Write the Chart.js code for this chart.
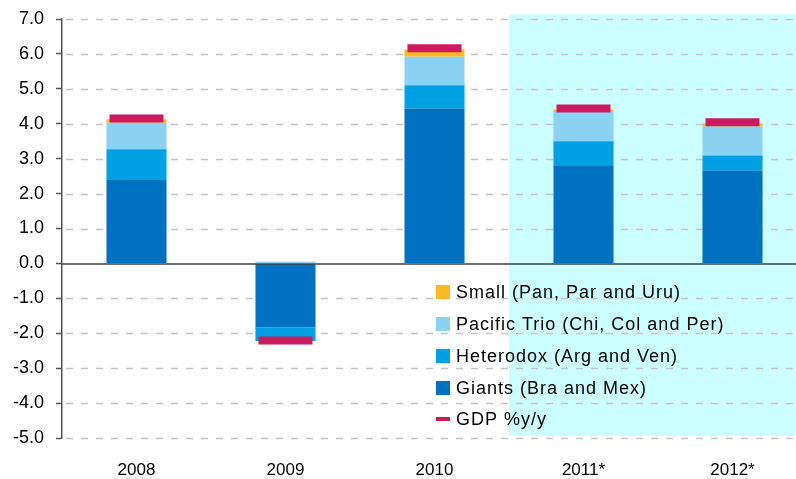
<!DOCTYPE html>
<html>
<head>
<meta charset="utf-8">
<script src="https://cdn.jsdelivr.net/npm/chart.js@4"></script>
<style>
html,body{margin:0;padding:0;overflow:hidden;background:#fff;width:796px;height:479px;}
canvas{display:block;}
</style>
</head>
<body>
<canvas id="c" width="807" height="479"></canvas>
<script>
const categories = ['2008', '2009', '2010', '2011*', '2012*'];
const giants    = [2.41, -1.83, 4.44, 2.81, 2.66];
const heterodox = [0.86, -0.39, 0.66, 0.69, 0.43];
const pacific   = [0.76, 0.05, 0.82, 0.84, 0.83];
const small     = [0.10, 0.00, 0.21, 0.07, 0.09];
const gdp       = [4.15, -2.21, 6.16, 4.44, 4.04];
const yTicks    = [7, 6, 5, 4, 3, 2, 1, 0, -1, -2, -3, -4, -5];
const labels = {
  small: 'Small (Pan, Par and Uru)',
  pacific: 'Pacific Trio (Chi, Col and Per)',
  heterodox: 'Heterodox (Arg and Ven)',
  giants: 'Giants (Bra and Mex)',
  gdp: 'GDP %y/y'
};
const colors = {
  giants: '#0070C0', heterodox: '#00A0E4', pacific: '#8DD1F2', small: '#FDB827', gdp: '#CC1A5E'
};
const FONT = '"Liberation Sans", Arial, sans-serif';

const bgPlugin = {
  id: 'bg',
  beforeDraw(chart) {
    const {ctx, chartArea, scales: {x, y}} = chart;
    ctx.save();
    const left = x.getPixelForValue(2.5);
    const top = y.getPixelForValue(7.13);
    const bottom = y.getPixelForValue(-4.94);
    ctx.fillStyle = '#CCFFFF';
    ctx.fillRect(left, top, chart.width - left, bottom - top);
    ctx.strokeStyle = '#C4C4C4';
    ctx.lineWidth = 1.5;
    ctx.setLineDash([7, 8]);
    yTicks.forEach(v => {
      if (v === 0) return;
      const py = Math.round(y.getPixelForValue(v)) + 0.5;
      ctx.beginPath();
      ctx.moveTo(chartArea.left + 4, py);
      ctx.lineTo(chart.width, py);
      ctx.stroke();
    });
    ctx.restore();
  },
  afterDatasetsDraw(chart) {
    const {ctx, chartArea, scales: {y}} = chart;
    ctx.save();
    const py = y.getPixelForValue(0) + 0.5;
    ctx.strokeStyle = '#404040';
    ctx.lineWidth = 1.5;
    ctx.beginPath();
    ctx.moveTo(chartArea.left, py);
    ctx.lineTo(chart.width, py);
    ctx.stroke();
    ctx.restore();
  },
  afterDraw(chart) {
    const {ctx} = chart;
    ctx.save();
    const items = [
      ['small', 'box'], ['pacific', 'box'], ['heterodox', 'box'], ['giants', 'box'], ['gdp', 'line']
    ];
    const rowY = [292, 324, 356, 388, 419];
    ctx.font = '18px ' + FONT;
    try { ctx.letterSpacing = '1px'; } catch (e) {}
    ctx.textBaseline = 'middle';
    ctx.textAlign = 'left';
    items.forEach((it, i) => {
      const cy = rowY[i];
      ctx.fillStyle = colors[it[0]];
      if (it[1] === 'box') {
        ctx.fillRect(436, cy - 7, 14, 14);
      } else {
        ctx.fillRect(436, cy - 2, 14, 4);
      }
      ctx.fillStyle = '#000';
      ctx.fillText(labels[it[0]], 456, cy + 1);
    });
    ctx.restore();
  }
};

const barCommon = {type: 'bar', stack: 's', order: 1, categoryPercentage: 1.0, barPercentage: 0.403, borderWidth: 0};

new Chart(document.getElementById('c'), {
  data: {
    labels: categories,
    datasets: [
      {...barCommon, label: labels.giants, data: giants, backgroundColor: colors.giants},
      {...barCommon, label: labels.heterodox, data: heterodox, backgroundColor: colors.heterodox},
      {...barCommon, label: labels.pacific, data: pacific, backgroundColor: colors.pacific},
      {...barCommon, label: labels.small, data: small, backgroundColor: colors.small},
      {type: 'line', label: labels.gdp, data: gdp, order: 0, showLine: false, clip: false,
       pointStyle: 'line', pointRadius: 27, pointHoverRadius: 27,
       pointBorderWidth: 8, pointHoverBorderWidth: 8,
       borderColor: colors.gdp, backgroundColor: colors.gdp}
    ]
  },
  options: {
    responsive: false,
    animation: false,
    layout: {autoPadding: false, padding: {top: 19, right: 0, bottom: 0, left: 0}},
    plugins: {legend: {display: false}, tooltip: {enabled: false}},
    scales: {
      x: {
        stacked: true,
        offset: true,
        grid: {display: false, drawTicks: false},
        border: {display: false},
        ticks: {color: '#000', font: {family: FONT, size: 17}, padding: 22, maxRotation: 0},
        afterFit(s) { s.height = 41; s.paddingLeft = 0; s.paddingRight = 0; }
      },
      y: {
        stacked: true,
        min: -5, max: 7,
        afterBuildTicks(s) { s.ticks = yTicks.map(v => ({value: v})); },
        grid: {drawOnChartArea: false, drawTicks: true, tickLength: 6, tickColor: '#555', tickWidth: 1.5},
        border: {display: true, color: '#555', width: 1.5},
        ticks: {color: '#000', font: {family: FONT, size: 18}, padding: 12,
                callback: v => Number(v).toFixed(1)},
        afterFit(s) { s.width = 62; s.paddingTop = 0; s.paddingBottom = 0; }
      }
    }
  },
  plugins: [bgPlugin]
});
</script>
</body>
</html>
